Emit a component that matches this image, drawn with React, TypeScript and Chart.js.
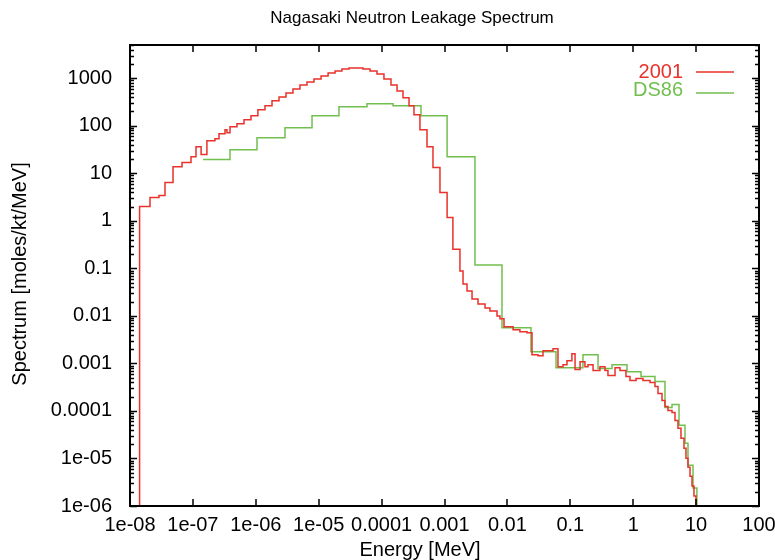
import React, { useEffect, useRef } from 'react';
import { Chart, registerables } from 'chart.js';

Chart.register(...registerables);

const TITLE = 'Nagasaki Neutron Leakage Spectrum';
const X_TITLE = 'Energy [MeV]';
const Y_TITLE = 'Spectrum [moles/kt/MeV]';
const LEGEND_2001 = '2001';
const LEGEND_DS86 = 'DS86';

const RED = '#e8322b';
const GREEN = '#72bf4f';
const FONT = '"Liberation Sans", Arial, Helvetica, sans-serif';

const xTickValues = [1e-8, 1e-7, 1e-6, 1e-5, 1e-4, 1e-3, 1e-2, 1e-1, 1, 10, 100];
const xTickLabels = ['1e-08', '1e-07', '1e-06', '1e-05', '0.0001', '0.001', '0.01', '0.1', '1', '10', '100'];
const yTickValues = [1e-6, 1e-5, 1e-4, 1e-3, 1e-2, 1e-1, 1, 10, 100, 1000];
const yTickLabels = ['1e-06', '1e-05', '0.0001', '0.001', '0.01', '0.1', '1', '10', '100', '1000'];

// 2001 spectrum: bin lower edges (MeV) and level in each bin (last entry = upper edge)
const energy2001 = [
  1.42e-8, 1.42e-8, 2.08e-8, 2.89e-8, 3.6e-8, 4.83e-8, 6.72e-8, 9.33e-8, 1.12e-7, 1.35e-7,
  1.67e-7, 2.24e-7, 2.6e-7, 3.24e-7, 3.48e-7, 3.89e-7, 5.02e-7, 6.49e-7, 8.39e-7, 1.08e-6,
  1.4e-6, 1.81e-6, 2.34e-6, 3.02e-6, 3.9e-6, 5.04e-6, 6.52e-6, 8.41e-6, 1.09e-5, 1.41e-5,
  1.82e-5, 2.34e-5, 3.03e-5, 3.92e-5, 5.06e-5, 6.55e-5, 8.45e-5, 1.09e-4, 1.41e-4, 1.76e-4,
  2.19e-4, 2.73e-4, 3.27e-4, 4.07e-4, 5.27e-4, 6.56e-4, 8.47e-4, 1.1e-3, 1.36e-3, 1.76e-3,
  1.97e-3, 2.28e-3, 2.74e-3, 3.41e-3, 4.41e-3, 5.28e-3, 6.84e-3, 7.62e-3, 8.83e-3, 1.23e-2,
  1.58e-2, 2.05e-2, 2.46e-2, 3.06e-2, 3.68e-2, 5.31e-2, 6.37e-2, 7.66e-2, 8.85e-2, 0.106,
  0.119, 0.143, 0.171, 0.191, 0.23, 0.296, 0.356, 0.397, 0.514, 0.617,
  0.767, 0.889, 1.11, 1.43, 1.85, 2.22, 2.48, 2.87, 3.2, 3.57,
  4.14, 4.62, 5.15, 5.75, 6.42, 6.9, 7.43, 8.0, 8.61, 9.25,
  9.96, 10.7,
];
const spectrum2001 = [
  1e-7, 2.01, 3.1, 3.42, 6.4, 13.8, 16.8, 22.4, 36.3, 24.7,
  48.5, 53.4, 68, 82.5, 71.3, 95.3, 110, 134, 162, 216,
  262, 334, 405, 491, 595, 722, 835, 964, 1114, 1288,
  1419, 1563, 1640, 1640, 1563, 1419, 1227, 964, 722, 541,
  386, 262, 170, 82.5, 36.3, 13.2, 3.95, 1.18, 0.253, 0.0876,
  0.0468, 0.0334, 0.0227, 0.0178, 0.0147, 0.0127, 0.01, 0.00865, 0.00589, 0.00509,
  0.00462, 0.00441, 0.00153, 0.00145, 0.00185, 0.00204, 0.000855, 0.000942, 0.00114, 0.0016,
  0.00074, 0.00109, 0.000855, 0.000942, 0.000705, 0.000855, 0.000705, 0.000554, 0.000815, 0.000705,
  0.000528, 0.000436, 0.00048, 0.000436, 0.000395, 0.000326, 0.000233, 0.000166, 0.000124, 0.000102,
  9.3e-5, 6.33e-5, 4.3e-5, 2.66e-5, 1.64e-5, 1.01e-5, 6.56e-6, 4.25e-6, 2.62e-6, 1.62e-6,
  8e-7, 8e-7,
];

// DS86 spectrum
const energyDS86 = [
  1.45e-7, 3.89e-7, 1.045e-6, 2.91e-6, 7.83e-6, 2.1e-5, 5.86e-5, 1.52e-4, 4.23e-4, 1.1e-3,
  3.05e-3, 8.2e-3, 2.37e-2, 5.93e-2, 0.159, 0.276, 0.46, 0.797, 1.33, 2.22,
  3.2, 4.14, 5.35, 6.66, 7.43, 8.93, 10.3, 11.5,
];
const spectrumDS86 = [
  19.4, 31.4, 56, 91, 162, 250, 289, 262, 162, 22.4,
  0.117, 0.0056, 0.00176, 0.00081, 0.00152, 0.00078, 0.00094, 0.00067, 0.00053, 0.000415,
  0.000118, 0.000137, 4.97e-5, 2.08e-5, 7.2e-6, 2.38e-6, 8e-7, 8e-7,
];

const framePlugin = {
  id: 'gnuplotFrame',
  beforeDraw(chart: any) {
    const ctx = chart.ctx;
    ctx.save();
    ctx.fillStyle = '#ffffff';
    ctx.fillRect(0, 0, chart.width, chart.height);
    ctx.restore();
  },
  afterDraw(chart: any) {
    const ctx = chart.ctx;
    const { left, right, top, bottom } = chart.chartArea;
    const xs = chart.scales.x;
    const ys = chart.scales.y;
    ctx.save();
    ctx.strokeStyle = '#000';
    ctx.lineWidth = 2;
    ctx.strokeRect(left, top, right - left, bottom - top);
    ctx.lineWidth = 1.5;
    ctx.beginPath();
    for (const v of xTickValues) {
      const px = Math.round(xs.getPixelForValue(v));
      ctx.moveTo(px, bottom);
      ctx.lineTo(px, bottom - 7);
      ctx.moveTo(px, top);
      ctx.lineTo(px, top + 7);
    }
    for (let d = -6; d <= 3; d++) {
      for (let m = 1; m <= 9; m++) {
        const v = m * Math.pow(10, d);
        if (v > ys.max) break;
        const py = Math.round(ys.getPixelForValue(v)) + 0.5;
        const len = m === 1 ? 7 : 4;
        ctx.moveTo(left, py);
        ctx.lineTo(left + len, py);
        ctx.moveTo(right, py);
        ctx.lineTo(right - len, py);
      }
    }
    ctx.stroke();

    ctx.fillStyle = '#000';
    ctx.textBaseline = 'middle';
    ctx.textAlign = 'center';
    ctx.font = `17px ${FONT}`;
    ctx.fillText(TITLE, 412, 18);
    ctx.font = `20px ${FONT}`;
    ctx.fillText(X_TITLE, 420, 550);
    ctx.save();
    ctx.translate(20, 274);
    ctx.rotate(-Math.PI / 2);
    ctx.fillText(Y_TITLE, 0, 0);
    ctx.restore();

    // legend
    ctx.textAlign = 'right';
    ctx.font = `20px ${FONT}`;
    ctx.fillStyle = RED;
    ctx.fillText(LEGEND_2001, 683, 72);
    ctx.fillStyle = GREEN;
    ctx.fillText(LEGEND_DS86, 683, 90);
    ctx.lineWidth = 1.5;
    ctx.strokeStyle = RED;
    ctx.beginPath();
    ctx.moveTo(696, 72);
    ctx.lineTo(734, 72);
    ctx.stroke();
    ctx.strokeStyle = GREEN;
    ctx.beginPath();
    ctx.moveTo(696, 93);
    ctx.lineTo(734, 93);
    ctx.stroke();
    ctx.restore();
  },
};

export default function App() {
  const canvasRef = useRef<HTMLCanvasElement | null>(null);

  useEffect(() => {
    const canvas = canvasRef.current;
    if (!canvas) return;
    const chart = new Chart(canvas, {
      type: 'line',
      data: {
        datasets: [
          {
            label: LEGEND_2001,
            data: energy2001.map((e, i) => ({ x: e, y: spectrum2001[i] })),
            borderColor: RED,
            borderWidth: 1.5,
            pointRadius: 0,
            stepped: 'before',
            fill: false,
          },
          {
            label: LEGEND_DS86,
            data: energyDS86.map((e, i) => ({ x: e, y: spectrumDS86[i] })),
            borderColor: GREEN,
            borderWidth: 1.5,
            pointRadius: 0,
            stepped: 'before',
            fill: false,
          },
        ],
      },
      options: {
        responsive: false,
        animation: false,
        devicePixelRatio: 1,
        layout: { padding: { top: 45, right: 16, left: 0, bottom: 0 } },
        plugins: {
          legend: { display: false },
          tooltip: { enabled: false },
          title: { display: false },
        },
        scales: {
          x: {
            type: 'logarithmic',
            min: 1e-8,
            max: 100,
            grid: { display: false, drawTicks: false },
            border: { display: false },
            afterBuildTicks: (s: any) => {
              s.ticks = xTickValues.map((v) => ({ value: v }));
            },
            afterFit: (s: any) => {
              s.height = 54;
              s.paddingLeft = 0;
              s.paddingRight = 0;
            },
            ticks: {
              autoSkip: false,
              maxRotation: 0,
              minRotation: 0,
              padding: 7,
              color: '#000',
              font: { family: FONT, size: 20 },
              callback: (_v: any, i: number) => xTickLabels[i],
            },
          },
          y: {
            type: 'logarithmic',
            min: 1e-6,
            max: 5000,
            grid: { display: false, drawTicks: false },
            border: { display: false },
            afterBuildTicks: (s: any) => {
              s.ticks = yTickValues.map((v) => ({ value: v }));
            },
            afterFit: (s: any) => {
              s.width = 130;
              s.paddingTop = 0;
              s.paddingBottom = 0;
            },
            ticks: {
              autoSkip: false,
              padding: 18,
              color: '#000',
              font: { family: FONT, size: 20 },
              callback: (_v: any, i: number) => yTickLabels[i],
            },
          },
        },
      },
      plugins: [framePlugin],
    });
    return () => chart.destroy();
  }, []);

  return (
    <div style={{ position: 'absolute', left: 0, top: 0, width: 775, height: 560 }}>
      <canvas ref={canvasRef} width={775} height={560} style={{ display: 'block' }} />
    </div>
  );
}
